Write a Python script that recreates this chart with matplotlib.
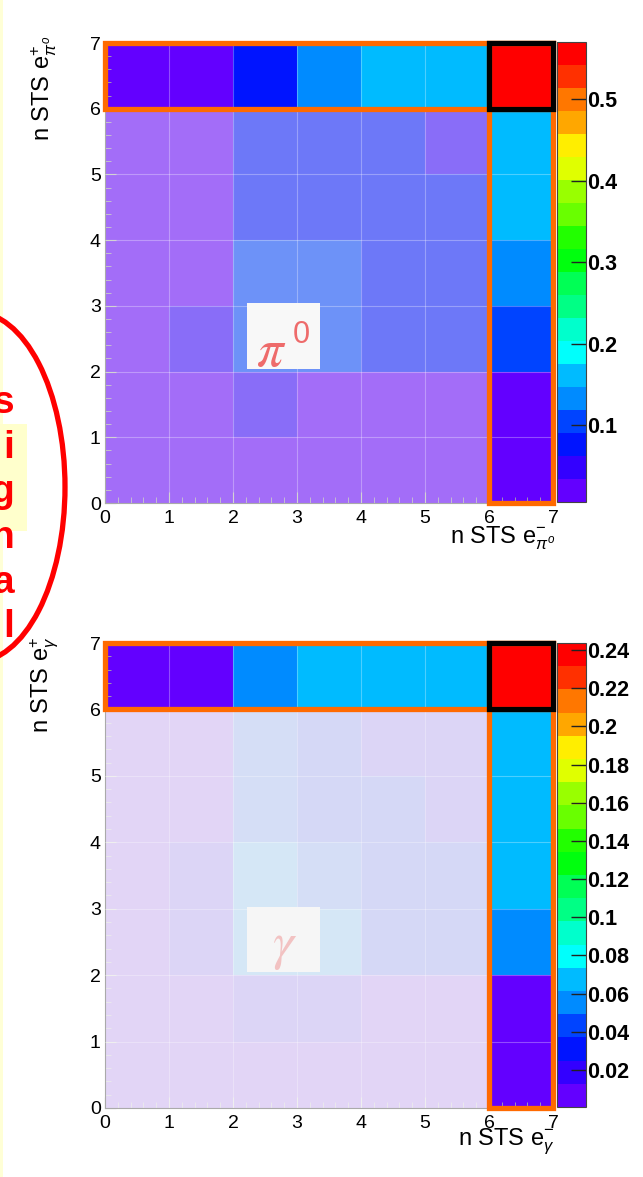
import colorsys
import numpy as np
import matplotlib
matplotlib.use("Agg")
import matplotlib.pyplot as plt
from matplotlib.colors import ListedColormap, BoundaryNorm
from matplotlib.patches import Rectangle, Ellipse
from matplotlib.ticker import MultipleLocator, FormatStrFormatter

plt.rcParams['font.family'] = ['Liberation Sans', 'DejaVu Sans']
plt.rcParams['mathtext.fontset'] = 'custom'
plt.rcParams['mathtext.rm'] = 'Liberation Sans'
plt.rcParams['mathtext.it'] = 'Liberation Sans:italic'
plt.rcParams['mathtext.bf'] = 'Liberation Sans:bold'

# ---------------- data ----------------
bin_edges = [0, 1, 2, 3, 4, 5, 6, 7]          # n STS hits
axis_ticks = [0, 1, 2, 3, 4, 5, 6, 7]

# rows: y bin 0..6 (bottom to top), columns: x bin 0..6
pi0_values = [
    [0.012, 0.014, 0.018, 0.016, 0.015, 0.013, 0.020],
    [0.015, 0.021, 0.047, 0.025, 0.022, 0.019, 0.024],
    [0.016, 0.049, 0.102, 0.106, 0.072, 0.070, 0.100],
    [0.017, 0.024, 0.104, 0.108, 0.079, 0.075, 0.131],
    [0.020, 0.023, 0.080, 0.081, 0.076, 0.071, 0.158],
    [0.019, 0.022, 0.074, 0.078, 0.073, 0.046, 0.160],
    [0.018, 0.021, 0.079, 0.137, 0.162, 0.166, 0.570],
]
gamma_values = [
    [0.004, 0.005, 0.006, 0.006, 0.005, 0.004, 0.009],
    [0.006, 0.009, 0.019, 0.018, 0.010, 0.009, 0.010],
    [0.008, 0.017, 0.053, 0.052, 0.030, 0.028, 0.056],
    [0.009, 0.018, 0.055, 0.042, 0.031, 0.029, 0.065],
    [0.010, 0.011, 0.044, 0.033, 0.030, 0.021, 0.067],
    [0.009, 0.010, 0.043, 0.031, 0.020, 0.019, 0.069],
    [0.008, 0.009, 0.055, 0.066, 0.068, 0.067, 0.2437],
]
pi0_zmin = 0.006
gamma_zmin = 0.0006
pi0_cbar_ticks = [0.1, 0.2, 0.3, 0.4, 0.5]
gamma_cbar_ticks = [0.02, 0.04, 0.06, 0.08, 0.10, 0.12, 0.14, 0.16, 0.18, 0.20, 0.22, 0.24]
side_letters = ['s', 'i', 'g', 'n', 'a', 'l']

# ---------------- helpers ----------------
W, H = 643, 1177


def fx(px):
    return px / W


def fy(py):
    return 1 - py / H


def root_palette(ncont=20, ncolors=50):
    cols = []
    for k in range(ncont):
        j = int((k + 0.99) * ncolors / ncont)
        hue = max(280.0 - (j + 1) * 280.0 / ncolors, 0.0)
        cols.append(colorsys.hls_to_rgb(hue / 360.0, 0.5, 1.0))
    return ListedColormap(cols)


cmap = root_palette()
fig = plt.figure(figsize=(W / 100, H / 100), dpi=100)
fig.patch.set_facecolor('white')

ORANGE = '#ff6a00'


def panel(ax_rect, cax_rect, values, zmin, cticks, mask_col, mask_alpha):
    ax = fig.add_axes(ax_rect)
    cax = fig.add_axes(cax_rect)
    Z = np.array(values)
    levels = np.linspace(zmin, Z.max(), 21)
    norm = BoundaryNorm(levels, 20)
    m = ax.pcolormesh(bin_edges, bin_edges, Z, cmap=cmap, norm=norm, zorder=1)
    ax.set_xlim(bin_edges[0], bin_edges[-1])
    ax.set_ylim(bin_edges[0], bin_edges[-1])
    ax.add_patch(Rectangle((0, 0), 6, 6, facecolor=mask_col, alpha=mask_alpha,
                           edgecolor='none', zorder=2))
    for v in axis_ticks[1:-1]:
        ax.axvline(v, color='white', lw=0.8, alpha=0.3, zorder=3)
        ax.axhline(v, color='white', lw=0.8, alpha=0.3, zorder=3)
    ax.set_xticks(axis_ticks)
    ax.set_yticks(axis_ticks)
    ax.xaxis.set_minor_locator(MultipleLocator(0.2))
    ax.yaxis.set_minor_locator(MultipleLocator(0.2))
    ax.tick_params(which='major', direction='in', length=8, width=0.8,
                   color='#999999', labelsize=14, pad=3)
    ax.tick_params(which='minor', direction='in', length=4, width=0.6,
                   color='#aaaaaa')
    ax.tick_params(axis='x', pad=5)
    for s in ax.spines.values():
        s.set_color('#aaaaaa')
        s.set_linewidth(0.8)
    ax.add_patch(Rectangle((0, 6), 7, 1, fill=False, edgecolor=ORANGE, lw=3.8,
                           zorder=6, clip_on=False))
    ax.add_patch(Rectangle((6, 0), 1, 7, fill=False, edgecolor=ORANGE, lw=3.8,
                           zorder=6, clip_on=False))
    ax.add_patch(Rectangle((6, 6), 1, 1, fill=False, edgecolor='black', lw=3.8,
                           zorder=7, clip_on=False))

    cb = fig.colorbar(m, cax=cax, ticks=cticks)
    cb.outline.set_linewidth(0.8)
    cb.outline.set_edgecolor('#444444')
    cax.yaxis.set_major_formatter(FormatStrFormatter('%g'))
    cax.tick_params(direction='in', length=11, width=1, color='#222222',
                    labelsize=15.5, pad=1)
    cax.minorticks_off()
    for t in cax.get_yticklabels():
        t.set_fontweight('bold')
    return ax


ax1 = panel([fx(105), fy(503), 448 / W, 460 / H], [fx(557), fy(502), 29 / W, 460 / H],
            pi0_values, pi0_zmin, pi0_cbar_ticks, '#f0f0f0', 0.46)
ax2 = panel([fx(105), fy(1108), 448 / W, 465 / H], [fx(557), fy(1107), 29 / W, 464 / H],
            gamma_values, gamma_zmin, gamma_cbar_ticks, '#f5f5f5', 0.875)

# label boxes
ax1.add_patch(Rectangle((2.22, 2.04), 1.14, 1.0, facecolor='#f8f8f8', edgecolor='none', zorder=5))
ax1.text(2.6, 2.3, r'$\pi$', fontsize=38, math_fontfamily='stix',
         color='#ee6b6b', ha='center', va='center', zorder=6)
ax1.text(3.07, 2.56, '0', fontsize=22, color='#ee6b6b', ha='center', va='center', zorder=6)

ax2.add_patch(Rectangle((2.22, 2.05), 1.14, 0.98, facecolor='#f6f6f6', edgecolor='none', zorder=5))
ax2.text(2.8, 2.42, r'$\gamma$', fontsize=38, math_fontfamily='stix',
         color='#f2c2c2', ha='center', va='center', zorder=6)

# axis titles (ROOT style, aligned to axis ends)
fig.text(fx(44), fy(36), r'n STS e$^{+}_{\pi^{o}}$', rotation=90, ha='center', va='top', fontsize=17)
fig.text(fx(555), fy(525), r'n STS e$^{-}_{\pi^{o}}$', ha='right', va='top', fontsize=17)
fig.text(fx(44), fy(636), r'n STS e$^{+}_{\gamma}$', rotation=90, ha='center', va='top', fontsize=17)
fig.text(fx(555), fy(1126), r'n STS e$^{-}_{\gamma}$', ha='right', va='top', fontsize=17)

# left side decoration
fig.add_artist(Rectangle((0, 0), 3 / W, 1, transform=fig.transFigure,
                         facecolor='#ffffd6', edgecolor='none', zorder=0))
fig.add_artist(Rectangle((0, fy(531)), 27 / W, 107 / H, transform=fig.transFigure,
                         facecolor='#ffffcc', edgecolor='none', zorder=1))
baselines = [413, 458, 502, 548, 593, 637]
for ch, b in zip(side_letters, baselines):
    fig.text(fx(14), fy(b), ch, ha='right', va='baseline', fontsize=28,
             weight='bold', color='#ff0000', zorder=3)
fig.add_artist(Ellipse((fx(-25), fy(487)), 180 / W, 350 / H, transform=fig.transFigure,
                       fill=False, edgecolor='#ff0000', lw=3.8, zorder=4))

fig.savefig('out.png', dpi=100)
